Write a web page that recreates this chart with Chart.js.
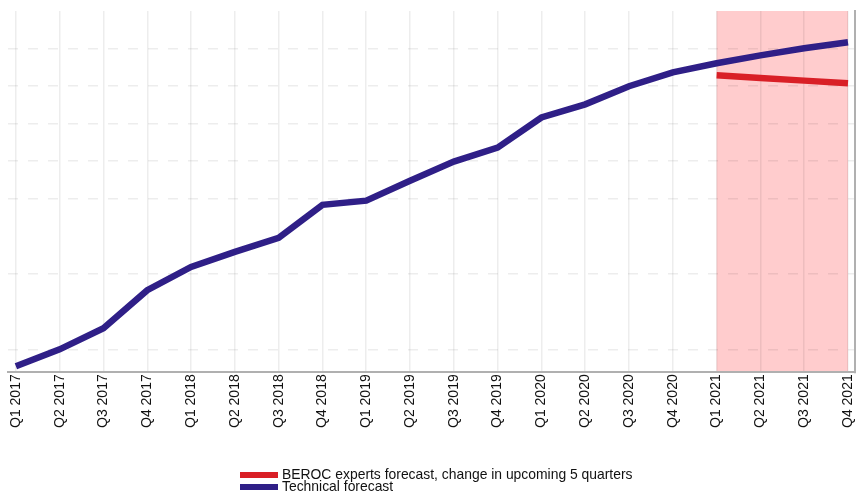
<!DOCTYPE html>
<html>
<head>
<meta charset="utf-8">
<script src="https://cdn.jsdelivr.net/npm/chart.js@4/dist/chart.umd.min.js"></script>
<style>
  html, body { margin: 0; padding: 0; background: #fff; }
  #wrap { position: relative; width: 858px; height: 497px; }
  #legend { position: absolute; left: 240px; top: 468px; font-family: "Liberation Sans", Arial, sans-serif; font-size: 13.9px; color: #111; }
  .item { height: 12px; line-height: 12px; white-space: nowrap; }
  .box { display: inline-block; width: 38px; height: 6px; margin-right: 4px; vertical-align: 1px; }
</style>
</head>
<body>
<div id="wrap">
  <canvas id="chart" width="858" height="497"></canvas>
  <div id="legend"></div>
</div>
<script>
// quarters on the x axis
const quarters = ['Q1 2017','Q2 2017','Q3 2017','Q4 2017','Q1 2018','Q2 2018','Q3 2018','Q4 2018',
  'Q1 2019','Q2 2019','Q3 2019','Q4 2019','Q1 2020','Q2 2020','Q3 2020','Q4 2020',
  'Q1 2021','Q2 2021','Q3 2021','Q4 2021'];

// technical forecast (blue), arbitrary units
const technical = [-0.45, 0.0, 0.56, 1.57, 2.19, 2.59, 2.96, 3.84, 3.95, 4.48, 4.99, 5.36,
  6.16, 6.51, 6.99, 7.36, 7.6, 7.81, 8.0, 8.16];

// BEROC experts forecast (red), only the last 4 quarters
const beroc = [null, null, null, null, null, null, null, null, null, null, null, null,
  null, null, null, null, 7.28, 7.21, 7.14, 7.07];

// where the horizontal grid lines are
const yGridValues = [0, 2, 4, 5, 6, 7, 8];

// shaded forecast period
const forecastFrom = 'Q1 2021';
const forecastTo = 'Q4 2021';

const seriesNames = ['BEROC experts forecast, change in upcoming 5 quarters', 'Technical forecast'];
const seriesColors = ['#d91f26', '#2f1f87'];

const shadePlugin = {
  id: 'shade',
  beforeDraw(chart) {
    const { ctx, chartArea, scales } = chart;
    const x1 = scales.x.getPixelForValue(quarters.indexOf(forecastFrom));
    const x2 = scales.x.getPixelForValue(quarters.indexOf(forecastTo));
    ctx.save();
    ctx.fillStyle = '#ffcccd';
    ctx.fillRect(x1, chartArea.top, x2 - x1, chartArea.bottom - chartArea.top);
    ctx.restore();
  },
  afterDraw(chart) {
    // grey frame line on the right side
    const { ctx, chartArea } = chart;
    ctx.save();
    ctx.strokeStyle = '#b0b0b0';
    ctx.lineWidth = 2;
    ctx.beginPath();
    ctx.moveTo(chartArea.right, chartArea.top - 1);
    ctx.lineTo(chartArea.right, chartArea.bottom + 1);
    ctx.stroke();
    ctx.restore();
  }
};

const font = { family: '"Liberation Sans", Arial, sans-serif', size: 14 };

new Chart(document.getElementById('chart'), {
  type: 'line',
  data: {
    datasets: [
      {
        label: seriesNames[0],
        data: beroc.map((v, i) => ({ x: i, y: v })),
        borderColor: seriesColors[0],
        backgroundColor: seriesColors[0],
        borderWidth: 6.5,
        pointRadius: 0,
        tension: 0,
        spanGaps: false
      },
      {
        label: seriesNames[1],
        data: technical.map((v, i) => ({ x: i, y: v })),
        borderColor: seriesColors[1],
        backgroundColor: seriesColors[1],
        borderWidth: 6.5,
        pointRadius: 0,
        tension: 0
      }
    ]
  },
  options: {
    responsive: false,
    animation: false,
    layout: { padding: { left: 8, right: 3, top: 11, bottom: 67 } },
    plugins: { legend: { display: false }, tooltip: { enabled: false } },
    scales: {
      x: {
        type: 'linear',
        min: -0.18,
        max: 19.16,
        afterBuildTicks(scale) {
          scale.ticks = quarters.map((q, i) => ({ value: i }));
        },
        afterFit(scale) {
          // no extra room for the rotated end labels
          scale.paddingLeft = 0;
          scale.paddingRight = 0;
        },
        ticks: {
          autoSkip: false,
          minRotation: 90,
          maxRotation: 90,
          padding: 2,
          color: '#111',
          font: font,
          callback: v => quarters[v]
        },
        grid: { color: 'rgba(0,0,0,0.07)', lineWidth: 1.5, drawTicks: false },
        border: { display: true, color: '#b0b0b0', width: 2 }
      },
      y: {
        min: -0.61,
        max: 8.99,
        afterBuildTicks(scale) {
          scale.ticks = yGridValues.map(v => ({ value: v }));
        },
        ticks: { display: false },
        grid: { color: 'rgba(0,0,0,0.07)', lineWidth: 1.5, drawTicks: false },
        border: { display: false, dash: [10, 10] }
      }
    }
  },
  plugins: [shadePlugin]
});

// legend under the chart, one row per series
const legend = document.getElementById('legend');
seriesNames.forEach((name, i) => {
  const row = document.createElement('div');
  row.className = 'item';
  const box = document.createElement('span');
  box.className = 'box';
  box.style.background = seriesColors[i];
  row.appendChild(box);
  row.appendChild(document.createTextNode(name));
  legend.appendChild(row);
});
</script>
</body>
</html>
